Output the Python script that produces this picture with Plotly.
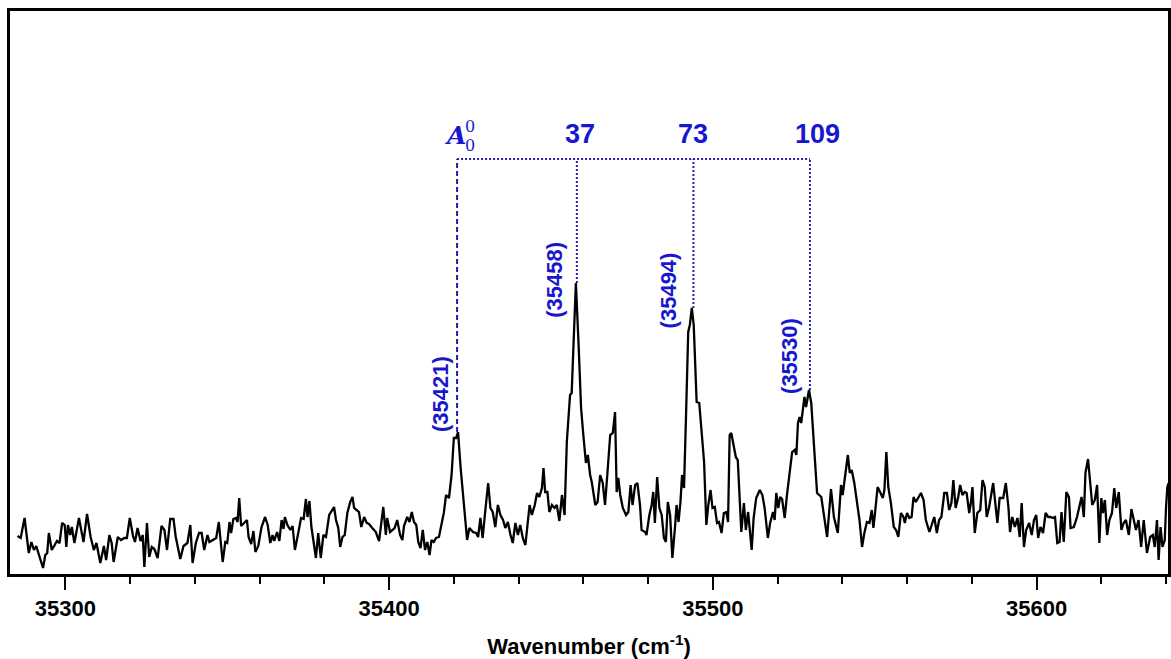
import plotly.graph_objects as go

# ---- spectrum data (wavenumber in cm^-1, signal in arbitrary units) ----
wn_a = [35285.2, 35286.2, 35287.4, 35288.7, 35289.5, 35290.3, 35291.0, 35292.1, 35293.1, 35293.8,
        35294.4, 35294.9, 35295.8, 35296.7, 35297.4, 35298.2, 35299.0, 35299.8, 35300.3, 35300.8,
        35301.5, 35302.0, 35302.8, 35304.2, 35304.9, 35305.6, 35306.7, 35307.8, 35308.8, 35309.6,
        35310.8, 35311.9, 35312.6, 35313.6, 35314.3, 35314.9, 35316.2, 35317.2, 35318.2, 35319.0,
        35319.9, 35320.9, 35321.5, 35322.3, 35323.2, 35323.9, 35324.4, 35325.2, 35325.9, 35326.7,
        35327.5, 35328.5, 35329.7, 35330.6, 35331.4, 35332.4, 35333.4, 35334.1, 35335.5, 35336.5,
        35337.7, 35338.6, 35339.3, 35340.3, 35341.3, 35342.1, 35342.9, 35343.9]
sig_a = [38, 36, 56, 21, 32, 24, 28, 16, 6, 19,
         21, 41, 24, 29, 33, 31, 51, 49, 27, 49,
         39, 47, 31, 56, 42, 32, 60, 37, 24, 31,
         11, 28, 14, 39, 31, 12, 37, 34, 36, 36,
         56, 38, 32, 46, 33, 39, 7, 51, 17, 27,
         25, 16, 48, 44, 24, 55, 55, 37, 15, 28,
         31, 49, 11, 31, 41, 41, 24, 39]

wn_b = [35344.5, 35345.5, 35346.6, 35347.4, 35348.1, 35348.6, 35349.4, 35350.0, 35350.7, 35351.2,
        35351.9, 35352.7, 35353.2, 35353.7, 35354.3, 35355.3, 35356.1, 35356.6, 35357.4, 35358.1,
        35358.7, 35359.6, 35360.6, 35361.7, 35362.5, 35363.3, 35364.0, 35364.5, 35365.4, 35366.1,
        35366.8, 35367.4, 35367.8, 35368.6, 35369.5, 35370.2, 35370.9, 35371.7, 35372.8, 35373.6,
        35374.3, 35374.8, 35375.4, 35376.0, 35376.9, 35377.4, 35378.1, 35378.9, 35379.7, 35380.5,
        35381.5, 35382.5, 35383.0, 35383.6, 35384.3, 35384.9, 35385.6, 35386.3, 35387.1, 35388.0,
        35388.7, 35389.2, 35390.0, 35390.7, 35391.4, 35392.3, 35393.1, 35393.8, 35394.8, 35395.9,
        35396.9, 35397.6, 35398.2, 35399.0, 35399.4, 35400.3, 35401.0, 35401.7, 35402.5, 35403.4,
        35404.1, 35404.6]
sig_b = [32, 34, 36, 52, 31, 12, 32, 31, 52, 41,
         55, 56, 52, 76, 48, 51, 54, 37, 30, 43,
         22, 28, 47, 57, 49, 31, 39, 33, 42, 33,
         54, 45, 57, 49, 44, 48, 24, 37, 56, 55,
         75, 57, 73, 47, 25, 16, 41, 16, 39, 37,
         59, 64, 67, 54, 46, 27, 37, 39, 61, 72,
         77, 66, 64, 62, 47, 57, 51, 50, 46, 42,
         33, 54, 67, 39, 56, 42, 44, 46, 54, 39,
         34, 48]

wn_c = [35405.6, 35406.3, 35407.0, 35407.7, 35408.4, 35409.0, 35409.7, 35410.4, 35411.1, 35411.8,
        35412.5, 35413.1, 35413.8, 35414.5, 35415.4, 35416.2, 35416.9, 35417.6, 35418.5, 35419.3,
        35420.0, 35420.7, 35421.3, 35422.1, 35423.1, 35424.1, 35424.8, 35425.9, 35426.9, 35427.5,
        35428.2, 35428.9, 35429.8, 35430.6, 35431.3, 35432.0, 35432.8, 35433.6, 35434.4, 35435.2,
        35435.9, 35436.7, 35437.5, 35438.2, 35439.0, 35439.8, 35440.5, 35441.3, 35442.1, 35442.9,
        35443.4, 35444.1, 35445.0, 35445.7, 35446.4, 35447.2, 35447.7, 35448.2, 35448.9, 35449.5,
        35450.3, 35451.1, 35451.8, 35452.6, 35453.4, 35454.2, 35454.9, 35455.9, 35456.4, 35457.0,
        35457.7, 35458.5, 35459.3, 35460.0, 35460.8, 35461.4, 35462.1, 35462.6]
sig_c = [57, 52, 62, 52, 49, 32, 26, 44, 24, 32,
         19, 34, 32, 36, 37, 51, 61, 79, 76, 99,
         136, 136, 142, 106, 72, 34, 46, 42, 41, 37,
         56, 36, 66, 91, 66, 62, 47, 69, 59, 54,
         46, 52, 39, 31, 51, 39, 49, 36, 29, 51,
         69, 59, 69, 81, 77, 86, 106, 82, 82, 62,
         69, 66, 69, 53, 79, 59, 132, 179, 181, 232,
         291, 232, 166, 139, 111, 119, 99, 92]

wn_d = [35463.7, 35464.4, 35465.2, 35466.0, 35466.7, 35467.4, 35468.3, 35469.1, 35469.8, 35470.3,
        35470.8, 35471.4, 35472.2, 35473.2, 35473.9, 35474.6, 35475.2, 35476.0, 35476.7, 35477.5,
        35478.0, 35479.1, 35479.5, 35480.4, 35481.1, 35481.6, 35482.1, 35482.8, 35483.5, 35484.2,
        35484.9, 35485.5, 35486.1, 35486.8, 35487.5, 35488.3, 35488.8, 35489.4, 35490.0, 35490.5,
        35491.1, 35491.7, 35492.4, 35492.9, 35493.5, 35494.1, 35495.0, 35495.8, 35496.5, 35497.3,
        35498.0, 35498.6, 35499.3, 35499.9, 35500.6, 35501.3, 35501.9, 35502.7, 35503.4, 35504.2,
        35504.7, 35505.2, 35505.7, 35506.5, 35507.1, 35507.7, 35508.3, 35508.8, 35509.6, 35510.2,
        35510.9, 35511.4, 35512.0, 35512.6, 35513.4, 35514.5, 35515.3, 35516.0, 35517.0, 35517.7,
        35518.6, 35519.1, 35519.6, 35520.2, 35520.8, 35521.4, 35522.2, 35522.9, 35523.7, 35524.5]
sig_d = [69, 72, 99, 91, 69, 99, 139, 141, 162, 82,
         96, 79, 66, 59, 62, 89, 69, 89, 91, 69,
         44, 42, 39, 59, 69, 82, 51, 97, 66, 59,
         36, 32, 72, 59, 16, 46, 69, 52, 72, 99,
         86, 156, 242, 249, 266, 249, 172, 171, 142, 112,
         49, 69, 84, 66, 67, 51, 52, 41, 61, 62,
         52, 139, 141, 129, 117, 114, 69, 42, 71, 44,
         62, 46, 24, 56, 76, 84, 79, 66, 36, 51,
         62, 54, 81, 66, 77, 75, 56, 79, 99, 122]

wn_e = [35525.3, 35525.8, 35526.3, 35526.8, 35527.3, 35528.3, 35528.8, 35529.7, 35530.4, 35531.2,
        35532.2, 35533.5, 35534.5, 35535.3, 35536.5, 35537.4, 35538.6, 35539.6, 35540.1, 35540.9,
        35541.7, 35542.3, 35542.9, 35543.7, 35544.5, 35545.3, 35546.1, 35546.8, 35547.6, 35548.4,
        35549.1, 35549.6, 35550.1, 35550.9, 35551.8, 35552.5, 35553.0, 35553.6, 35554.2, 35555.0,
        35555.9, 35556.6, 35557.3, 35558.1, 35558.9, 35559.3, 35560.0, 35560.7, 35561.4, 35562.0,
        35562.7, 35563.5, 35564.3, 35565.1, 35565.8, 35566.9, 35567.7, 35568.4, 35569.2, 35569.9,
        35570.6, 35571.5, 35572.3, 35573.0, 35573.7, 35574.3, 35575.0, 35575.8, 35576.4, 35577.1,
        35577.8, 35578.4, 35579.2, 35579.7, 35580.2, 35580.9, 35581.7, 35582.6, 35583.3, 35584.0,
        35584.6]
sig_e = [124, 119, 151, 157, 151, 177, 167, 184, 171, 131,
         81, 77, 57, 37, 85, 57, 41, 89, 79, 101,
         119, 101, 104, 91, 71, 54, 27, 41, 52, 51,
         64, 46, 61, 87, 81, 76, 84, 122, 87, 71,
         47, 44, 37, 61, 57, 51, 61, 56, 57, 77,
         72, 77, 81, 74, 54, 42, 49, 57, 41, 54,
         57, 81, 81, 64, 71, 94, 66, 77, 89, 79,
         82, 81, 61, 71, 87, 41, 61, 64, 94, 87,
         57]

wn_f = [35585.3, 35586.6, 35587.4, 35587.9, 35588.6, 35589.7, 35590.5, 35591.3, 35591.8, 35592.5,
        35593.3, 35594.1, 35594.8, 35595.4, 35596.1, 35596.8, 35597.7, 35598.5, 35599.2, 35599.9,
        35600.5, 35601.2, 35602.0, 35602.8, 35603.6, 35604.3, 35605.1, 35605.7, 35606.4, 35607.1,
        35607.7, 35608.4, 35609.2, 35610.0, 35610.5, 35611.5, 35612.5, 35613.2, 35613.9, 35614.6,
        35615.1, 35615.9, 35616.6, 35617.2, 35618.0, 35618.7, 35619.4, 35620.0, 35620.5, 35621.1,
        35621.8, 35622.5, 35623.3, 35624.0, 35624.6, 35625.4, 35626.2, 35626.9, 35627.6, 35628.5,
        35629.3, 35630.0, 35630.7, 35631.5, 35632.3, 35633.1, 35634.1, 35635.1, 35635.9, 35636.5,
        35637.2, 35637.7, 35638.3, 35638.9, 35639.6, 35640.0, 35640.4, 35640.8]
sig_f = [66, 91, 67, 51, 76, 76, 91, 67, 42, 57,
         47, 56, 37, 71, 27, 44, 51, 39, 54, 59,
         36, 47, 41, 61, 57, 57, 56, 57, 31, 32,
         62, 32, 82, 77, 46, 47, 57, 67, 77, 57,
         101, 115, 91, 69, 74, 89, 31, 76, 61, 74,
         39, 54, 61, 86, 66, 82, 44, 51, 54, 39,
         65, 54, 44, 54, 27, 54, 21, 37, 39, 27,
         54, 14, 47, 27, 34, 67, 87, 91]

wavenumber = wn_a + wn_b + wn_c + wn_d + wn_e + wn_f
signal = sig_a + sig_b + sig_c + sig_d + sig_e + sig_f
assert len(wavenumber) == len(signal)

# ---- assigned progression ----
peak_wn = [35421, 35458, 35494, 35530]      # band positions (cm^-1)
peak_top = [142, 291, 266, 184]             # signal at each band maximum
peak_labels = ["(35421)", "(35458)", "(35494)", "(35530)"]
shift_labels = ["37", "73", "109"]          # offsets from the origin band
bracket_level = 415                          # height of the horizontal guide

x_range = [35282.9, 35640.6]
y_range = [0, 563]

BLUE_TEXT = "#1717cf"
BLUE_LINE = "#2222a6"

fig = go.Figure()
fig.add_trace(go.Scatter(
    x=wavenumber, y=signal, mode="lines",
    line=dict(color="black", width=2.3),
    hoverinfo="skip", showlegend=False,
))

# horizontal guide joining the progression members
fig.add_shape(type="line", xref="x", yref="y",
              x0=peak_wn[0], x1=peak_wn[-1], y0=bracket_level, y1=bracket_level,
              line=dict(color=BLUE_LINE, width=2, dash="2px,2px"))
# vertical guides down to each band
for i, (p, h) in enumerate(zip(peak_wn, peak_top)):
    fig.add_shape(type="line", xref="x", yref="y",
                  x0=p, x1=p, y0=h, y1=bracket_level,
                  line=dict(color=BLUE_LINE, width=2,
                            dash="5px,3px" if i == 0 else "2px,2px"))

# rotated band positions
label_dx = [-17, -23, -25, -21]
label_dy = [38, 3, 18, 34]
for p, h, txt, dx, dy in zip(peak_wn, peak_top, peak_labels, label_dx, label_dy):
    fig.add_annotation(x=p, y=h, xref="x", yref="y", text=txt, showarrow=False,
                       textangle=-90, xanchor="center", yanchor="middle",
                       xshift=dx, yshift=dy,
                       font=dict(family="Liberation Sans", size=22, color=BLUE_TEXT,
                                 weight="bold"))

# progression offsets above the guide
top_dx = [3, 0, 8]
for p, txt, dx in zip(peak_wn[1:], shift_labels, top_dx):
    fig.add_annotation(x=p, y=bracket_level, xref="x", yref="y", text=txt,
                       showarrow=False, xanchor="center", yanchor="middle",
                       xshift=dx, yshift=25,
                       font=dict(family="Liberation Sans", size=27, color=BLUE_TEXT,
                                 weight="bold"))

# origin band symbol A with stacked sub/superscript 0
fig.add_annotation(x=peak_wn[0], y=bracket_level, xref="x", yref="y",
                   text="<i>A</i>", showarrow=False, xanchor="center", yanchor="middle",
                   xshift=-2, yshift=24,
                   font=dict(family="DejaVu Serif", size=25, color=BLUE_TEXT, weight="bold"))
fig.add_annotation(x=peak_wn[0], y=bracket_level, xref="x", yref="y",
                   text="0", showarrow=False, xanchor="center", yanchor="middle",
                   xshift=13, yshift=14,
                   font=dict(family="DejaVu Serif", size=16, color=BLUE_TEXT))
fig.add_annotation(x=peak_wn[0], y=bracket_level, xref="x", yref="y",
                   text="0", showarrow=False, xanchor="center", yanchor="middle",
                   xshift=13, yshift=33,
                   font=dict(family="DejaVu Serif", size=16, color=BLUE_TEXT))

fig.update_layout(
    width=1171, height=659,
    margin=dict(l=10, r=0, t=11, b=85),
    paper_bgcolor="white", plot_bgcolor="white",
    showlegend=False,
    xaxis=dict(
        range=x_range, showgrid=False, zeroline=False,
        showline=True, linecolor="black", linewidth=2.5, mirror=True,
        tickmode="linear", tick0=35300, dtick=100, tickformat="d",
        ticks="outside", ticklen=13, tickwidth=2, tickcolor="black",
        minor=dict(tickmode="linear", tick0=35300, dtick=20, ticks="outside",
                   ticklen=7, tickwidth=2, tickcolor="black"),
        tickfont=dict(family="Liberation Sans", size=22, color="black", weight="bold"),
        title=dict(text="Wavenumber (cm<sup>-1</sup>)", standoff=20,
                   font=dict(family="Liberation Sans", size=22, color="black",
                             weight="bold")),
    ),
    yaxis=dict(
        range=y_range, showgrid=False, zeroline=False,
        showline=True, linecolor="black", linewidth=2.5, mirror=True,
        showticklabels=False, ticks="",
    ),
)

fig.write_html("out.html")
